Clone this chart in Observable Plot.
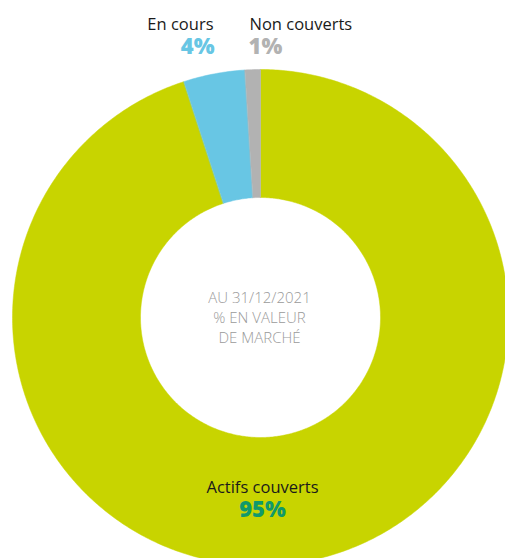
<!DOCTYPE html>
<html><head><meta charset="utf-8">
<script src="https://cdn.jsdelivr.net/npm/d3@7"></script>
<script src="https://cdn.jsdelivr.net/npm/@observablehq/plot@0.6"></script>
<style>
html,body{margin:0;padding:0;background:#fff;}
svg{display:block;}
</style>
</head><body>
<div id="chart"></div>
<script>
const categories = ["Actifs couverts", "En cours", "Non couverts"];
const values = [95, 4, 1];
const valueLabels = ["95%", "4%", "1%"];
const colors = ["#c8d400", "#68c6e4", "#b2b2b2"];
const labelColors = ["#11996a", "#68c6e4", "#b2b2b2"];
const centerLines = ["AU 31/12/2021", "% EN VALEUR", "DE MARCHÉ"];

const W = 505, H = 558, CX = 260, CY = 317, R = 248, RIN = 120;
const inner = RIN / R;
const px = (x) => (x - CX) / R;
const py = (y) => (CY - y) / R;

// Build slice polygons from the data via d3.pie
const pie = d3.pie().sort(null).value(d => d.value);
const arcs = pie(categories.map((c, i) => ({category: c, value: values[i]})));
const pts = [];
arcs.forEach(a => {
  const n = Math.max(4, Math.ceil((a.endAngle - a.startAngle) / 0.01));
  const outer = [], innerPts = [];
  for (let k = 0; k <= n; k++) {
    const t = a.startAngle + (a.endAngle - a.startAngle) * k / n;
    outer.push({category: a.data.category, x: Math.sin(t), y: Math.cos(t)});
    innerPts.push({category: a.data.category, x: inner * Math.sin(t), y: inner * Math.cos(t)});
  }
  pts.push(...outer, ...innerPts.reverse());
});

const labels = [
  {text: categories[1], x: px(213), y: py(24), anchor: "end", size: 16.5, weight: 400, color: "#1a1a1a"},
  {text: valueLabels[1], x: px(214), y: py(46), anchor: "end", size: 22, weight: 800, color: labelColors[1]},
  {text: categories[2], x: px(249), y: py(24), anchor: "start", size: 16.5, weight: 400, color: "#1a1a1a"},
  {text: valueLabels[2], x: px(248), y: py(46), anchor: "start", size: 22, weight: 800, color: labelColors[2]},
  {text: categories[0], x: px(262), y: py(487), anchor: "middle", size: 16.5, weight: 400, color: "#1a1a1a"},
  {text: valueLabels[0], x: px(262), y: py(509), anchor: "middle", size: 22, weight: 800, color: labelColors[0]}
];
const center = centerLines.map((t, i) => ({text: t, x: px(259), y: py(298 + i * 20)}));

const textMark = (d) => Plot.text([d], {
  x: "x", y: "y", text: "text", textAnchor: d.anchor, fill: d.color,
  fontSize: d.size, fontWeight: d.weight, fontFamily: "Open Sans"
});

const chart = Plot.plot({
  width: W, height: H,
  margin: 0,
  x: {domain: [px(0), px(W)], axis: null},
  y: {domain: [py(H), py(0)], axis: null},
  color: {domain: categories, range: colors},
  style: {fontFamily: "Open Sans", background: "#fff"},
  marks: [
    Plot.line(pts, {x: "x", y: "y", z: "category", fill: "category", stroke: "category", strokeWidth: 0.5, curve: "linear-closed"}),
    ...labels.map(textMark),
    Plot.text(center, {x: "x", y: "y", text: "text", fill: "#9a9a9a", fontSize: 15, fontWeight: 300, fontFamily: "Open Sans", textAnchor: "middle", letterSpacing: "0.4px"})
  ]
});
document.getElementById("chart").appendChild(chart);
</script>
</body></html>
